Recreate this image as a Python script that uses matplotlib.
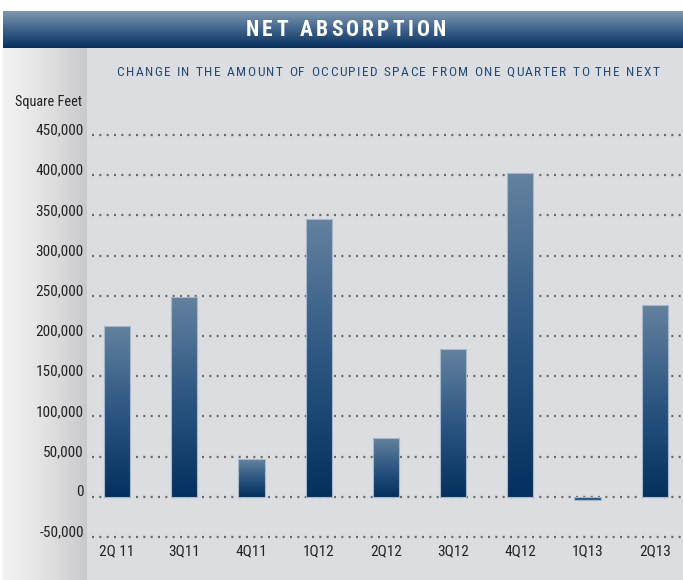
import numpy as np
import matplotlib
matplotlib.use("Agg")
import matplotlib.pyplot as plt
from matplotlib import font_manager
from matplotlib.colors import LinearSegmentedColormap
from matplotlib.transforms import offset_copy

categories = ["2Q 11", "3Q11", "4Q11", "1Q12", "2Q12", "3Q12", "4Q12", "1Q13", "2Q13"]
values = [213000, 249000, 47000, 346000, 73000, 184000, 403000, -4000, 239000]
yticks = [-50000, 0, 50000, 100000, 150000, 200000, 250000, 300000, 350000, 400000, 450000]
title = "NET ABSORPTION"
subtitle = "CHANGE IN THE AMOUNT OF OCCUPIED SPACE FROM ONE QUARTER TO THE NEXT"
ylabel = "Square Feet"

avail = {f.name for f in font_manager.fontManager.ttflist}
narrow = "Roboto"
for cand in ["Liberation Sans Narrow", "Roboto Condensed", "Open Sans Condensed"]:
    if cand in avail:
        narrow = cand
        break
fam = [narrow, "DejaVu Sans"]

W, H = 683, 580
fig = plt.figure(figsize=(W / 100, H / 100), dpi=100)
fig.patch.set_facecolor("white")

bg = fig.add_axes([0, 0, 1, 1])
bg.set_xlim(0, W)
bg.set_ylim(H, 0)
bg.axis("off")
bg.add_patch(plt.Rectangle((3, 48), W - 3, H - 48, color="#dcdde0", zorder=0))
strip = np.linspace(0, 1, 100)[None, :]
cm_strip = LinearSegmentedColormap.from_list("s", ["#f3f3f3", "#e2e2e3", "#c9cacc"])
bg.imshow(strip, cmap=cm_strip, extent=(3, 87, H, 48), aspect="auto", zorder=1)
hdr = np.linspace(0, 1, 100)[:, None]
cm_hdr = LinearSegmentedColormap.from_list("h", ["#7f97b1", "#3f6389", "#07305f"])
bg.imshow(hdr, cmap=cm_hdr, extent=(3, W, 48, 11), aspect="auto", zorder=1)


def tracked_text(ax, x, y, s, tracking, **kw):
    fig.canvas.draw()
    r = fig.canvas.get_renderer()

    def wid(txt):
        t = ax.text(0, 0, txt, **kw)
        w = t.get_window_extent(renderer=r).width
        t.remove()
        return w

    wx = wid("x")
    offs = [0.0]
    for i in range(1, len(s) + 1):
        offs.append(wid(s[:i] + "x") - wx)
    total = offs[-1] + tracking * (len(s) - 1)
    x0 = x - total / 2
    for i, ch in enumerate(s):
        if ch != " ":
            ax.text(x0 + offs[i] + tracking * i, y, ch, ha="left", va="center", **kw)


tracked_text(bg, 346, 30, title, 3.3, color="white", fontsize=15.5,
             fontweight="bold", family=fam, zorder=3)
tracked_text(bg, 388, 72, subtitle, 1.5, color="#244a73", fontsize=9.6,
             family=fam, zorder=3)
bg.text(82, 102, ylabel, ha="right", va="center", fontsize=10.3,
        color="#222222", family=fam, zorder=3)

ylo, yhi = -52000, 455000
ax = fig.add_axes([92 / W, (H - 538.6) / H, 1 - 92 / W, (538.6 - 131) / H])
ax.patch.set_alpha(0)
x = np.arange(len(categories))
xlo, xhi = -0.372, 8.42
for s in ax.spines.values():
    s.set_visible(False)
for yv in yticks:
    ax.axhline(yv, color="#6a6a6a", lw=1.6, ls=(0, (0.9, 2.4)), zorder=1)
bars = ax.bar(x, values, width=0.39, color="none", edgecolor="#a7b8ca",
              linewidth=0.8, zorder=3)
cm_bar = LinearSegmentedColormap.from_list("b", ["#64829f", "#2d5682", "#03305f"])
cm_neg = LinearSegmentedColormap.from_list("n", ["#2d5682", "#2d5682"])
grad = np.linspace(0, 1, 256)[:, None]
for b, v in zip(bars, values):
    x0 = b.get_x()
    top, bot = max(v, 0), min(v, 0)
    im = ax.imshow(grad, cmap=cm_bar if v > 0 else cm_neg,
                   extent=(x0, x0 + b.get_width(), bot, top), aspect="auto",
                   zorder=2, origin="upper")
    im.set_clip_path(b)
ax.set_xlim(xlo, xhi)
ax.set_ylim(ylo, yhi)
ax.set_yticks(yticks)
ax.set_yticklabels([f"{v:,}" for v in yticks], family=fam, fontsize=11, color="#222222")
ax.set_xticks(x)
ax.set_xticklabels(categories, family=fam, fontsize=11, color="#222222")
ax.tick_params(length=0)
ax.tick_params(axis="y", pad=6)
ax.tick_params(axis="x", pad=4)
for lab in ax.get_yticklabels():
    lab.set_transform(offset_copy(lab.get_transform(), fig=fig, x=0, y=6, units="dots"))

fig.savefig("out.png", dpi=100, facecolor="white")
